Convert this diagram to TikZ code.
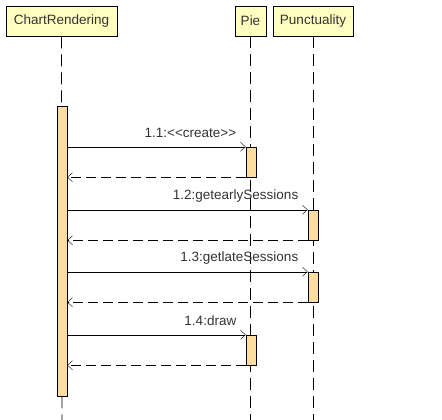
\documentclass[tikz,border=0pt]{standalone}
\usepackage{fontspec}
\setmainfont{Liberation Sans}
\usetikzlibrary{arrows.meta}

\definecolor{headfill}{RGB}{255,255,192}
\definecolor{actfill}{RGB}{254,222,160}
\definecolor{labeltext}{RGB}{51,51,51}

\begin{document}
\begin{tikzpicture}[x=1pt, y=-1pt, >={Straight Barb[length=5pt,width=9pt]},
    head/.style={draw, thick, fill=headfill, minimum height=30pt, inner sep=0pt,
        text=labeltext, font=\fontsize{13.5}{16}\selectfont},
    act/.style={draw, fill=actfill, minimum width=10pt, inner sep=0pt},
    life/.style={thick, dash pattern=on 12pt off 6pt},
    call/.style={->},
    ret/.style={->, dash pattern=on 10pt off 5pt},
    msg/.style={anchor=base east, text=labeltext, font=\fontsize{13.5}{16}\selectfont}]
    \useasboundingbox (0,0) rectangle (442,420);
    \node[head, minimum width=111pt] (chart) at (61.5,21) {ChartRendering};
    \node[head, minimum width=31pt] (pie) at (250.5,21) {Pie};
    \node[head, minimum width=80pt] (punct) at (313,21) {Punctuality};
    \coordinate (chartend) at (62,420);
    \coordinate (pieend) at (250.5,420);
    \coordinate (punctend) at (313,420);
    \draw[life] (chart.south) -- (chartend);
    \draw[life] (pie.south) -- (pieend);
    \draw[life] (punct.south) -- (punctend);
    \node[act, minimum height=290pt] (a0) at (62,251) {};
    \node[act, minimum height=30pt] (a1) at (251,162) {};
    \node[act, minimum height=30pt] (a2) at (313,225) {};
    \node[act, minimum height=30pt] (a3) at (313,287) {};
    \node[act, minimum height=30pt] (a4) at (251,350) {};
    \draw[call] (a0.east |- a1.north west) -- (a1.north west)
        node[msg, xshift=-6pt, yshift=9pt] {1.1:<\kern0pt<create>\kern0pt>};
    \draw[ret] (a1.south west) -- (a0.east |- a1.south west);
    \draw[call] (a0.east |- a2.north west) -- (a2.north west)
        node[msg, xshift=-6pt, yshift=10pt] {1.2:getearlySessions};
    \draw[ret] (a2.south west) -- (a0.east |- a2.south west);
    \draw[call] (a0.east |- a3.north west) -- (a3.north west)
        node[msg, xshift=-6pt, yshift=10pt] {1.3:getlateSessions};
    \draw[ret] (a3.south west) -- (a0.east |- a3.south west);
    \draw[call] (a0.east |- a4.north west) -- (a4.north west)
        node[msg, xshift=-6pt, yshift=9pt] {1.4:draw};
    \draw[ret] (a4.south west) -- (a0.east |- a4.south west);
\end{tikzpicture}
\end{document}
